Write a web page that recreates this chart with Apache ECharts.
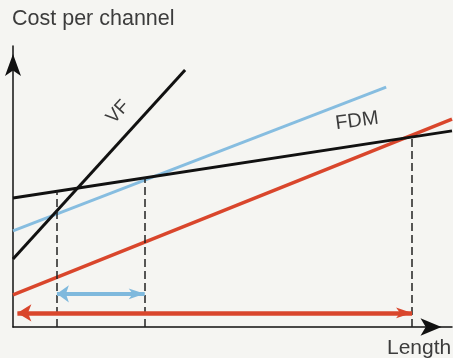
<!DOCTYPE html>
<html>
<head>
<meta charset="utf-8">
<script src="https://cdn.jsdelivr.net/npm/echarts@6/dist/echarts.min.js"></script>
<style>
  html, body { margin: 0; padding: 0; background: #f5f5f2; }
  #chart { width: 453px; height: 358px; }
</style>
</head>
<body>
<div id="chart"></div>
<script>
// Cost per channel versus link length: VF, FDM and two unlabelled systems
const vfLine    = [[0, 2.42], [3.92, 9.15]];   // VF (steep black)
const fdmLine   = [[0, 4.59], [10, 6.98]];     // FDM (shallow black)
const blueLine  = [[0, 3.42], [8.50, 8.54]];
const redLine   = [[0, 1.14], [10, 7.40]];

// Break-even lengths and the cost where each dashed guide stops
const breakEvenX = [1.0, 3.0, 9.09];
const breakEvenY = [4.83, 5.31, 6.76];

// Ranges where a system is cheapest
const blueRange = { from: 1.0, to: 3.0, level: 1.18 };
const redRange  = { from: 0.1, to: 9.09, level: 0.50 };

const textColor = '#3c3c3c';
const font = '"Liberation Sans", Arial, Helvetica, sans-serif';

const chart = echarts.init(document.getElementById('chart'), null, { renderer: 'canvas' });

const dashedGuides = breakEvenX.map((x, i) => [
  { coord: [x, 0] },
  { coord: [x, breakEvenY[i]] }
]);

function lineSeries(name, data, color, width) {
  return {
    name, type: 'line', data, symbol: 'none', clip: false, silent: true,
    lineStyle: { color, width, cap: 'butt' }
  };
}

chart.setOption({
  backgroundColor: '#f5f5f2',
  animation: false,
  grid: { left: 13, right: 1, top: 46, bottom: 31 },
  xAxis: {
    type: 'value', min: 0, max: 10,
    axisLine: {
      onZero: false,
      lineStyle: { color: '#111', width: 1.5 },
      symbol: ['none', 'arrow'], symbolSize: [13, 21], symbolOffset: [0, -10.5]
    },
    axisTick: { show: false }, axisLabel: { show: false }, splitLine: { show: false }
  },
  yAxis: {
    type: 'value', min: 0, max: 10,
    axisLine: {
      show: true, onZero: false,
      lineStyle: { color: '#111', width: 1.5 },
      symbol: ['none', 'arrow'], symbolSize: [12, 22], symbolOffset: [0, -8]
    },
    axisTick: { show: false }, axisLabel: { show: false }, splitLine: { show: false }
  },
  series: [
    Object.assign(lineSeries('guides', [], '#222', 1.5), {
      markLine: {
        silent: true, symbol: ['none', 'none'], label: { show: false },
        lineStyle: { color: '#222', width: 1.5, type: [8, 4] },
        data: dashedGuides
      }
    }),
    lineSeries('Blue', blueLine, '#86bde0', 3),
    lineSeries('Red', redLine, '#d9462c', 3.5),
    lineSeries('FDM', fdmLine, '#111', 3),
    lineSeries('VF', vfLine, '#111', 3),
    Object.assign(lineSeries('ranges', [], '#000', 1), {
      markLine: {
        silent: true, label: { show: false }, symbol: ['arrow', 'arrow'],
        data: [
          [
            { coord: [blueRange.from, blueRange.level], symbolSize: [13, 12],
              lineStyle: { color: '#7fb9dd', width: 4, type: 'solid' } },
            { coord: [blueRange.to, blueRange.level] }
          ],
          [
            { coord: [redRange.from, redRange.level], symbolSize: [13, 14],
              lineStyle: { color: '#d9462c', width: 4.5, type: 'solid' } },
            { coord: [redRange.to, redRange.level] }
          ]
        ]
      }
    })
  ],
  graphic: [
    { type: 'text', x: 12, y: 19,
      style: { text: 'Cost per channel', font: '21.5px ' + font, fill: textColor, align: 'left', verticalAlign: 'middle' } },
    { type: 'text', x: 118, y: 112, rotation: 0.83,
      style: { text: 'VF', font: '19px ' + font, fill: textColor, align: 'center', verticalAlign: 'middle' } },
    { type: 'text', x: 357, y: 121, rotation: 0.13,
      style: { text: 'FDM', font: '20px ' + font, fill: textColor, align: 'center', verticalAlign: 'middle' } },
    { type: 'text', x: 387, y: 348,
      style: { text: 'Length', font: '21px ' + font, fill: textColor, align: 'left', verticalAlign: 'middle' } }
  ]
});
</script>
</body>
</html>
